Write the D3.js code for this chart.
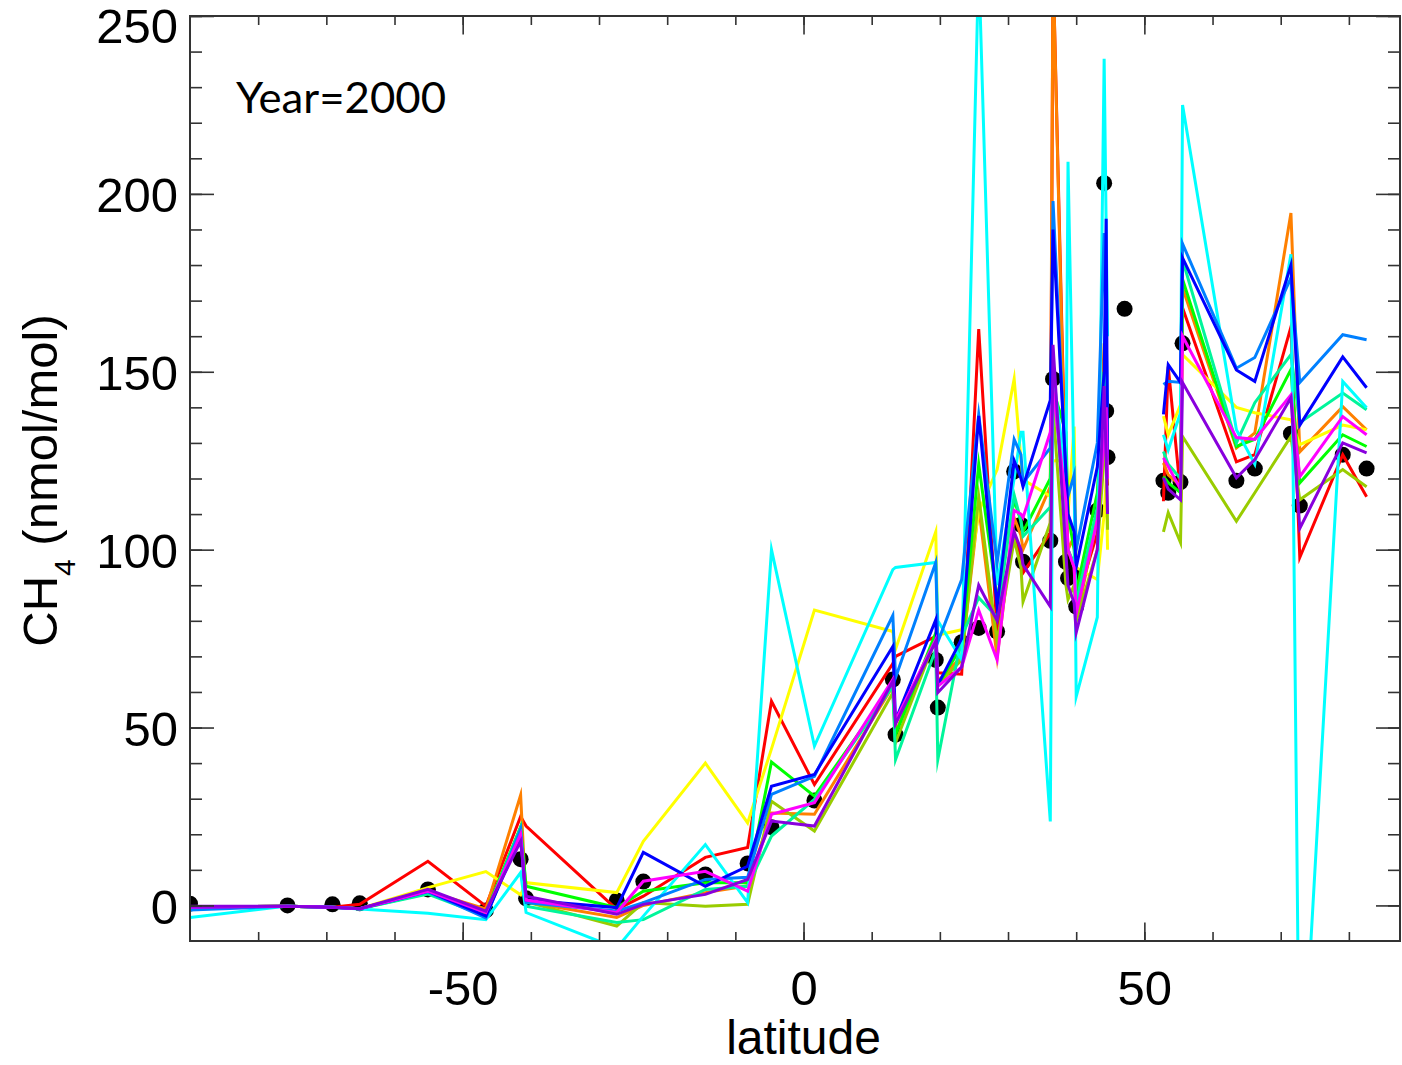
<!DOCTYPE html>
<html>
<head>
<meta charset="utf-8">
<script src="https://cdn.jsdelivr.net/npm/d3@7"></script>
<style>
  html, body { margin: 0; padding: 0; background: #fff; }
  svg { display: block; }
</style>
</head>
<body>
<svg id="chart" width="1402" height="1065"></svg>
<script>
// ---- data ----
const latitudes = [-90, -75.7, -69.1, -65.1, -55.1, -46.6, -41.5, -40.7, -27.4, -23.5,
  -14.4, -8.2, -4.7, 1.6, 13.1, 13.5, 19.4, 19.7, 23.2, 25.7,
  28.4, 30.9, 31.9, 32.2, 36.2, 36.6, 38.5, 38.8, 39.7, 40.0,
  43.1, 44.1, 44.4, 44.6, 47.1, 52.8, 53.5, 55.3, 55.6, 63.5,
  66.2, 71.5, 72.8, 79.1, 82.6];
const observed = [0.5, 0, 0.3, 0.6, 4.5, -1.4, 13, 2, 1.4, 6.7,
  8.7, 11.8, 22, 29.5, 63.5, 48, 69, 55.6, 74, 78,
  77, 122, 107, 96.6, 102.5, 148, 96.6, 92, 93, 84,
  111, 203, 139, 126, 167.7, 119.4, 116, 119, 158, 119.4,
  122.8, 132.6, 112.4, 126.7, 122.8];

const modelRed = [-0.5, -0.2, -0.5, 0.3, 12.4, -0.2, 25, 22.3, -1.1, 2.6,
  13.5, 16.3, 57.4, 34, 68, 70, 75.6, 65.4, 65, 162,
  76.7, 104.7, 98, 93.5, 104.7, 265, 115, 100, 95, 85,
  104.7, 150, 125, 118, null, 113.6, 151.5, 116, 168, 124.7,
  126.7, 162.6, 97.8, 126.7, 114.9];
const modelOrange = [-0.5, -0.2, -0.5, -0.9, 4, -1, 31, 1, -3.4, 0,
  3.6, 5.5, 26, 25.6, 61.6, 48.6, 75.6, 63, 70, 112,
  69.7, 109, 104, 100, 117.7, 265, 110, 100, 103.7, 80,
  109, 158, 150, 125, null, 124.4, 121, 118, 173.6, 128.6,
  132.8, 194.6, 127.5, 140.2, 133.7];
const modelYellow = [-0.5, -0.2, -0.5, -0.9, 5, 9.5, 3, 6.4, 3.6, 18,
  40, 23.2, 44, 83, 77, 72, 105, 76, 77.5, 110.7,
  122.5, 148, 125, 119.7, 115, 125, 125, 110, 134.6, 95,
  91.6, 110, 120, 100, null, 137.5, 132.3, 140.7, 154.8, 140,
  138.5, 136.5, 129.5, 135, 133.7];
const modelYellowGreen = [-0.5, -0.2, -0.5, -0.9, 3.6, -2, 22, 1, -5.8, 0.8,
  -0.2, 0.3, 29.3, 20.9, 59.8, 45.8, 75, 62, 69, 115,
  74, 102.8, 95, 85.4, 107.6, 140, 90, 86, 90, 80,
  100, 126, 130, 105.6, null, 105, 110.4, 102, 131.8, 108,
  116, 131.8, 114, 122.5, 117.7];
const modelGreen = [-0.5, -0.2, -0.5, -0.9, 3.5, -2, 22, 5.4, -0.6, 4,
  6.4, 6.4, 40.3, 30.7, 62, 48, 76.6, 62, 72.8, 124,
  86, 114, 108, 105, 120, 145, 133, 110, 100, 88,
  116, 150, 135, 125, null, 120.6, 118.8, 116, 176, 129,
  131, 150.6, 118.8, 132.3, 129];
const modelSpringGreen = [-0.5, -0.2, -0.5, -0.9, 3.2, -3, 22, -0.2, -4.8, -4,
  4.5, 5.4, 19.5, 29.8, 61.6, 41, 72, 41, 75.6, 86.5,
  81, 115.4, 108, 103.7, 112, 150, 105, 100, 96, 85,
  112, 150, 140, 120, null, 127.6, 124, 120, 181.5, 130,
  141.3, 154.8, 135.7, 144, 139.3];
const modelCyan = [-3.4, -0.2, -0.5, -1, -2.2, -4, 9.2, -2, -12, -3,
  17.1, 0.8, 100, 44.8, 94.4, 95, 96.4, 80, 69, 265,
  90, 120, 133, 133, 23.6, 150, 120, 209, 120, 58.7,
  81, 238, 190, 160, null, 132.3, 128, 138.5, 225, 133.7,
  124, 183, -65, 147.3, 139.9];
const modelDodger = [-1.3, -0.2, -0.5, -0.9, 3.8, -3.5, 21.4, 0.8, -1.6, 0.8,
  7.3, 7.9, 31.2, 36.3, 81.5, 64, 96.4, 74, 91.6, 138,
  96.3, 131, 126.7, 118.8, 128.6, 198, 120.5, 115, 121, 100,
  130, 189, 160, 140, null, 146.4, 147.3, 147, 186, 151,
  154, 176.4, 147, 160.4, 159];
const modelBlue = [-0.5, -0.2, -0.5, -0.9, 4, -3, 19.5, 1.5, -0.6, 14.9,
  5.4, 11, 33.5, 36.8, 72.8, 52, 80.3, 62, 75, 137.6,
  84, 125, 120, 117.7, 142, 190, 121.6, 110, 105, 95,
  123.3, 150, 193, 125, null, 138, 152, 147, 182, 150.5,
  147.3, 180, 135, 154.2, 145.5];
const modelMagenta = [-0.5, -0.2, -0.5, -0.9, 4, -2, 20, 1.5, -2, 6.8,
  9.6, 4, 25.6, 28.9, 63.5, 52, 74.7, 61.6, 67, 83,
  69, 111, 110, 109, 133, 145, 113.5, 100, 95, 82,
  108.4, 130, 140, 120, null, 125.8, 123.4, 117, 160, 131.5,
  131, 143.5, 120.5, 137.4, 132.3];
const modelPurple = [-0.2, -0.2, -0.5, -0.9, 4.5, -1.6, 18, 2.6, -2.5, 0.3,
  3.1, 7.3, 23.7, 22.3, 63, 51, 74.2, 59.8, 67, 90,
  80, 105, 100, 95.8, 84, 157.6, 98.6, 90, 85, 76.7,
  100, 146, 126, 110, null, 120.2, 117, 114, 147, 120.2,
  125.3, 142.7, 106, 130, 127.2];

const xMajorTicks = [-50, 0, 50];
const xMinorTicks = [-80, -70, -60, -50, -40, -30, -20, -10, 0, 10, 20, 30, 40, 50, 60, 70, 80];
const yMajorTicks = [0, 50, 100, 150, 200, 250];
const yMinorTicks = [0, 10, 20, 30, 40, 50, 60, 70, 80, 90, 100, 110, 120, 130, 140, 150, 160, 170, 180, 190, 200, 210, 220, 230, 240, 250];

// ---- styling (kept separate from data) ----
const seriesList = [
  { values: modelRed, color: "#ff0000" },
  { values: modelOrange, color: "#ff8000" },
  { values: modelYellow, color: "#ffff00" },
  { values: modelYellowGreen, color: "#99cc00" },
  { values: modelGreen, color: "#00ff00" },
  { values: modelSpringGreen, color: "#00f59a" },
  { values: modelCyan, color: "#00ffff" },
  { values: modelDodger, color: "#0080ff" },
  { values: modelBlue, color: "#0000ff" },
  { values: modelMagenta, color: "#ff00ff" },
  { values: modelPurple, color: "#8800dd" }
];

const W = 1402, H = 1065;
const margin = { left: 190, right: 2, top: 16, bottom: 124 };
const svg = d3.select("#chart");
const x = d3.scaleLinear().domain([-90, 87.5]).range([margin.left, W - margin.right]);
const y = d3.scaleLinear().domain([-10, 250]).range([H - margin.bottom, margin.top]);
const x0 = x.range()[0], x1 = x.range()[1], y0 = y.range()[0], y1 = y.range()[1];

const font = "'Liberation Sans', Arial, Helvetica, sans-serif";
const plainFormat = d => String(d);   // hyphen-minus, as in the reference

svg.append("defs").append("clipPath").attr("id", "plotclip")
  .append("rect").attr("x", x0).attr("y", y1).attr("width", x1 - x0).attr("height", y0 - y1);

const plot = svg.append("g").attr("clip-path", "url(#plotclip)");

// observed dots
plot.append("g").selectAll("circle")
  .data(latitudes.map((lat, i) => ({ lat, v: observed[i] })))
  .join("circle")
  .attr("cx", d => x(d.lat)).attr("cy", d => y(d.v)).attr("r", 8).attr("fill", "#000");

// model lines
const line = d3.line()
  .defined(d => d.v !== null)
  .x(d => x(d.lat)).y(d => y(d.v));
plot.append("g").selectAll("path")
  .data(seriesList)
  .join("path")
  .attr("d", s => line(latitudes.map((lat, i) => ({ lat, v: s.values[i] }))))
  .attr("fill", "none")
  .attr("stroke", s => s.color)
  .attr("stroke-width", 3)
  .attr("stroke-linejoin", "miter")
  .attr("stroke-miterlimit", 10);

// axes
function styleAxis(g) {
  g.select(".domain").remove();
  g.selectAll("line").attr("stroke", "#333").attr("stroke-width", 1.6);
  g.selectAll("text").attr("fill", "#000").style("font-family", font).style("font-size", "49px");
}
// bottom
svg.append("g").attr("transform", `translate(0,${y0})`)
  .call(d3.axisBottom(x).tickValues(xMinorTicks).tickSize(-9).tickFormat(""))
  .call(styleAxis);
svg.append("g").attr("transform", `translate(0,${y0})`)
  .call(d3.axisBottom(x).tickValues(xMajorTicks).tickSize(-18.5).tickPadding(29).tickFormat(plainFormat))
  .call(styleAxis);
// top
svg.append("g").attr("transform", `translate(0,${y1})`)
  .call(d3.axisTop(x).tickValues(xMinorTicks).tickSize(-9).tickFormat(""))
  .call(styleAxis);
svg.append("g").attr("transform", `translate(0,${y1})`)
  .call(d3.axisTop(x).tickValues(xMajorTicks).tickSize(-18.5).tickFormat(""))
  .call(styleAxis);
// left
svg.append("g").attr("transform", `translate(${x0},0)`)
  .call(d3.axisLeft(y).tickValues(yMinorTicks).tickSize(-12).tickFormat(""))
  .call(styleAxis);
const leftMajor = svg.append("g").attr("transform", `translate(${x0},0)`)
  .call(d3.axisLeft(y).tickValues(yMajorTicks).tickSize(-24).tickPadding(12).tickFormat(plainFormat))
  .call(styleAxis);
leftMajor.selectAll(".tick text").attr("dy", d => d === 250 ? "0.55em" : "0.36em");
// right
svg.append("g").attr("transform", `translate(${x1},0)`)
  .call(d3.axisRight(y).tickValues(yMinorTicks).tickSize(-12).tickFormat(""))
  .call(styleAxis);
svg.append("g").attr("transform", `translate(${x1},0)`)
  .call(d3.axisRight(y).tickValues(yMajorTicks).tickSize(-24).tickFormat(""))
  .call(styleAxis);

// frame
svg.append("rect").attr("x", x0).attr("y", y1).attr("width", x1 - x0).attr("height", y0 - y1)
  .attr("fill", "none").attr("stroke", "#333").attr("stroke-width", 2);

// axis titles
svg.append("text").attr("x", x(0)).attr("y", 1054)
  .attr("text-anchor", "middle").style("font-family", font).style("font-size", "48px")
  .text("latitude");

const yt = svg.append("text")
  .attr("transform", `translate(57,${(y0 + y1) / 2 + 2}) rotate(-90)`)
  .attr("text-anchor", "middle").style("font-family", font).style("font-size", "49px");
yt.append("tspan").text("CH");
yt.append("tspan").attr("dy", 18).style("font-size", "30px").text("4");
yt.append("tspan").attr("dy", -18).text(" (nmol/mol)");

// annotation
svg.append("text").attr("x", 236).attr("y", 113)
  .attr("textLength", 210).attr("lengthAdjust", "spacingAndGlyphs")
  .style("font-family", "Lato, 'Open Sans', sans-serif").style("font-size", "43px")
  .text("Year=2000");
</script>
</body>
</html>
